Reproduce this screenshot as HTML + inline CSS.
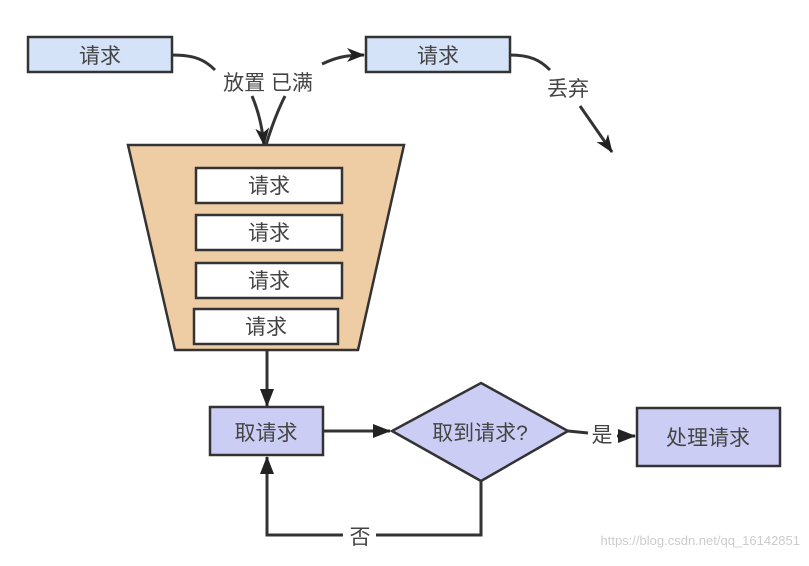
<!DOCTYPE html>
<html><head><meta charset="utf-8"><style>
body{margin:0;background:#fff}
text{font-family:"Liberation Sans","Noto Sans CJK SC",sans-serif;fill:#444}
</style></head><body>
<svg width="809" height="561" viewBox="0 0 809 561" xmlns="http://www.w3.org/2000/svg">
<defs><marker id="a" markerWidth="18" markerHeight="14" refX="17" refY="7" orient="auto" markerUnits="userSpaceOnUse"><path d="M0,0 L18,7 L0,14 Z" fill="#222"/></marker>
<marker id="b" markerWidth="18" markerHeight="14" refX="17" refY="7" orient="auto" markerUnits="userSpaceOnUse"><path d="M0,0 L18,7 L0,14 L5,7 Z" fill="#222"/></marker></defs>
<g stroke="#333" stroke-width="3" fill="none">
<path d="M172,55 C195,55 205,60 215,70"/>
<path d="M252,96 C258,110 262,125 264,145" marker-end="url(#b)"/>
<path d="M285,96 C278,110 272,125 266,145"/>
<path d="M322,64 C335,58 345,55 364,55" marker-end="url(#b)"/>
<path d="M510,55 C530,55 540,60 550,70"/>
<path d="M580,106 L612,152" marker-end="url(#b)"/>
</g>
<rect x="28" y="37" width="144" height="35" fill="#d4e3f8" stroke="#333" stroke-width="2.5"/>
<rect x="366" y="37" width="144" height="35" fill="#d4e3f8" stroke="#333" stroke-width="2.5"/>
<text x="100" y="63" font-size="21" text-anchor="middle">请求</text>
<text x="438" y="63" font-size="21" text-anchor="middle">请求</text>
<text x="268" y="90" font-size="21" text-anchor="middle">放置 已满</text>
<text x="568" y="96" font-size="21" text-anchor="middle">丢弃</text>
<path d="M128,145 L404,145 L358,350 L175,350 Z" fill="#eecda4" stroke="#333" stroke-width="2.5"/>
<g fill="#fff" stroke="#333" stroke-width="2.5">
<rect x="196" y="168" width="146" height="35"/><rect x="196" y="215" width="146" height="35"/>
<rect x="196" y="263" width="146" height="35"/><rect x="194" y="309" width="144" height="35"/></g>
<g font-size="21" text-anchor="middle"><text x="269" y="193">请求</text><text x="269" y="240">请求</text><text x="269" y="288">请求</text><text x="266" y="334">请求</text></g>
<g stroke="#333" stroke-width="3" fill="none">
<path d="M267,351 L267,406" marker-end="url(#a)"/>
<path d="M323,431 L390,431" marker-end="url(#a)"/>
<path d="M568,431 L588,433"/><path d="M617,436 L635,436" marker-end="url(#a)"/>
<path d="M481,481 L481,535 L376,535"/><path d="M343,535 L267,535 L267,457" marker-end="url(#a)"/>
</g>
<rect x="210" y="407" width="113" height="48" fill="#cccdf5" stroke="#333" stroke-width="2.5"/>
<path d="M481,383 L568,431 L481,481 L392,431 Z" fill="#cccdf5" stroke="#333" stroke-width="2.5"/>
<rect x="637" y="408" width="143" height="58" fill="#cccdf5" stroke="#333" stroke-width="2.5"/>
<g font-size="21" text-anchor="middle">
<text x="266" y="440">取请求</text><text x="480" y="440">取到请求?</text><text x="708" y="445">处理请求</text>
<text x="602" y="442">是</text><text x="360" y="544">否</text></g>
<text x="800" y="545" font-size="13" text-anchor="end" style="fill:#ccc">https://blog.csdn.net/qq_16142851</text>
</svg>
</body></html>
